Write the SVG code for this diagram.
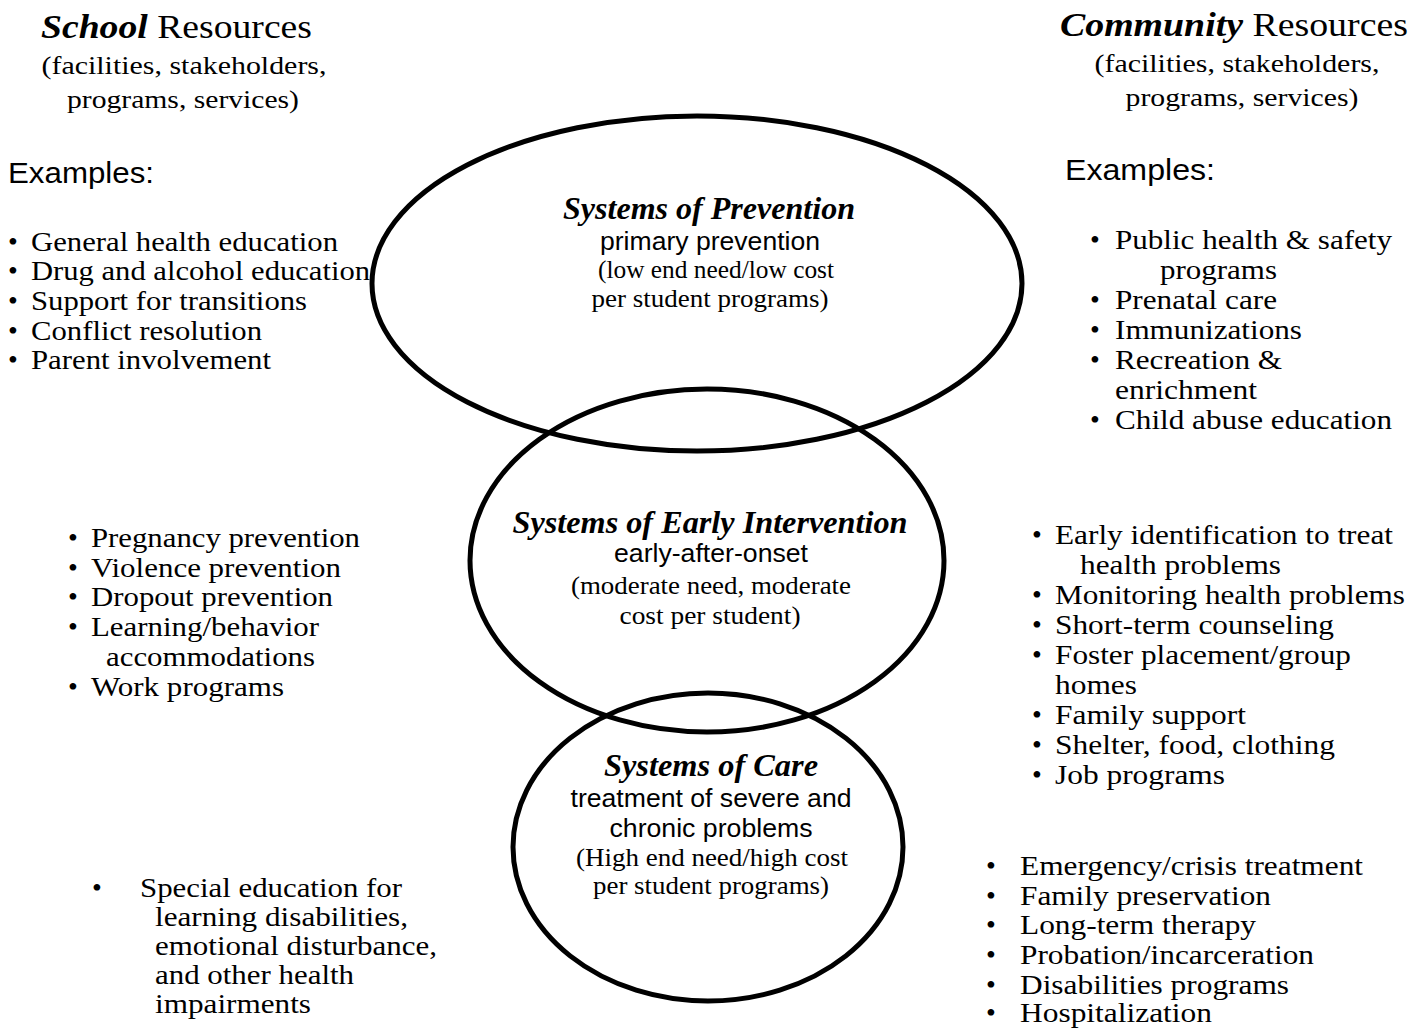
<svg xmlns="http://www.w3.org/2000/svg" width="1427" height="1028" viewBox="0 0 1427 1028">
<style>
.ell{fill:none;stroke:#000;stroke-width:5}
.t{font-family:"Liberation Serif","Times New Roman",serif;fill:#000}
.h{font-size:34px}
.sub{font-size:26px;text-anchor:middle}
.ex{font-family:"Liberation Sans",Arial,sans-serif;font-size:30px;fill:#000}
.b{font-size:28px}
.bi{font-weight:bold;font-style:italic}
.ct{font-size:31px;text-anchor:middle;font-weight:bold;font-style:italic}
.cs{font-family:"Liberation Sans",Arial,sans-serif;font-size:25px;text-anchor:middle;fill:#000}
.cr{font-size:25px;text-anchor:middle}
</style>
<rect width="1427" height="1028" fill="#fff"/>
<g id="connectors"/>
<g id="node-prevention">
<ellipse class="ell" cx="697" cy="283.5" rx="325" ry="167.5"/>
<text class="t ct" x="709" y="219" textLength="292" lengthAdjust="spacingAndGlyphs">Systems of Prevention</text>
<text class="cs" x="710" y="250" textLength="220" lengthAdjust="spacingAndGlyphs">primary prevention</text>
<text class="t cr" x="716" y="278" textLength="236" lengthAdjust="spacingAndGlyphs">(low end need/low cost</text>
<text class="t cr" x="710" y="307" textLength="237" lengthAdjust="spacingAndGlyphs">per student programs)</text>
</g>
<g id="node-early">
<ellipse class="ell" cx="707" cy="560.5" rx="237" ry="171.5"/>
<text class="t ct" x="710" y="533" textLength="395" lengthAdjust="spacingAndGlyphs">Systems of Early Intervention</text>
<text class="cs" x="711" y="562" textLength="194" lengthAdjust="spacingAndGlyphs">early-after-onset</text>
<text class="t cr" x="711" y="594" textLength="280" lengthAdjust="spacingAndGlyphs">(moderate need, moderate</text>
<text class="t cr" x="710" y="624" textLength="181" lengthAdjust="spacingAndGlyphs">cost per student)</text>
</g>
<g id="node-care">
<ellipse class="ell" cx="708" cy="847" rx="195" ry="154"/>
<text class="t ct" x="711" y="776" textLength="214" lengthAdjust="spacingAndGlyphs">Systems of Care</text>
<text class="cs" x="711" y="807" textLength="281" lengthAdjust="spacingAndGlyphs">treatment of severe and</text>
<text class="cs" x="711" y="837" textLength="203" lengthAdjust="spacingAndGlyphs">chronic problems</text>
<text class="t cr" x="712" y="866" textLength="272" lengthAdjust="spacingAndGlyphs">(High end need/high cost</text>
<text class="t cr" x="711" y="894" textLength="236" lengthAdjust="spacingAndGlyphs">per student programs)</text>
</g>
<g id="school-header">
<text class="t h" x="41" y="38" textLength="271" lengthAdjust="spacingAndGlyphs"><tspan class="bi">School</tspan> Resources</text>
<text class="t sub" x="184" y="74" textLength="285" lengthAdjust="spacingAndGlyphs">(facilities, stakeholders,</text>
<text class="t sub" x="183" y="108" textLength="232" lengthAdjust="spacingAndGlyphs">programs, services)</text>
<text class="ex" x="8" y="183" textLength="146" lengthAdjust="spacingAndGlyphs">Examples:</text>
</g>
<g id="community-header">
<text class="t h" x="1060" y="36" textLength="348" lengthAdjust="spacingAndGlyphs"><tspan class="bi">Community</tspan> Resources</text>
<text class="t sub" x="1237" y="72" textLength="285" lengthAdjust="spacingAndGlyphs">(facilities, stakeholders,</text>
<text class="t sub" x="1242" y="106" textLength="233" lengthAdjust="spacingAndGlyphs">programs, services)</text>
<text class="ex" x="1065" y="180" textLength="150" lengthAdjust="spacingAndGlyphs">Examples:</text>
</g>
<g id="school-prevention" class="t b">
<text x="8" y="251">•</text><text x="31" y="251" textLength="307" lengthAdjust="spacingAndGlyphs">General health education</text>
<text x="8" y="280">•</text><text x="31" y="280" textLength="339" lengthAdjust="spacingAndGlyphs">Drug and alcohol education</text>
<text x="8" y="310">•</text><text x="31" y="310" textLength="276" lengthAdjust="spacingAndGlyphs">Support for transitions</text>
<text x="8" y="340">•</text><text x="31" y="340" textLength="231" lengthAdjust="spacingAndGlyphs">Conflict resolution</text>
<text x="8" y="369">•</text><text x="31" y="369" textLength="240" lengthAdjust="spacingAndGlyphs">Parent involvement</text>
</g>
<g id="community-prevention" class="t b">
<text x="1090" y="249">•</text><text x="1115" y="249" textLength="277" lengthAdjust="spacingAndGlyphs">Public health &amp; safety</text>
<text x="1160" y="279" textLength="117" lengthAdjust="spacingAndGlyphs">programs</text>
<text x="1090" y="309">•</text><text x="1115" y="309" textLength="162" lengthAdjust="spacingAndGlyphs">Prenatal care</text>
<text x="1090" y="339">•</text><text x="1115" y="339" textLength="187" lengthAdjust="spacingAndGlyphs">Immunizations</text>
<text x="1090" y="369">•</text><text x="1115" y="369" textLength="167" lengthAdjust="spacingAndGlyphs">Recreation &amp;</text>
<text x="1115" y="399" textLength="142" lengthAdjust="spacingAndGlyphs">enrichment</text>
<text x="1090" y="429">•</text><text x="1115" y="429" textLength="277" lengthAdjust="spacingAndGlyphs">Child abuse education</text>
</g>
<g id="school-early" class="t b">
<text x="68" y="547">•</text><text x="91" y="547" textLength="269" lengthAdjust="spacingAndGlyphs">Pregnancy prevention</text>
<text x="68" y="577">•</text><text x="91" y="577" textLength="250" lengthAdjust="spacingAndGlyphs">Violence prevention</text>
<text x="68" y="606">•</text><text x="91" y="606" textLength="242" lengthAdjust="spacingAndGlyphs">Dropout prevention</text>
<text x="68" y="636">•</text><text x="91" y="636" textLength="228" lengthAdjust="spacingAndGlyphs">Learning/behavior</text>
<text x="106" y="666" textLength="209" lengthAdjust="spacingAndGlyphs">accommodations</text>
<text x="68" y="696">•</text><text x="91" y="696" textLength="193" lengthAdjust="spacingAndGlyphs">Work programs</text>
</g>
<g id="community-early" class="t b">
<text x="1032" y="544">•</text><text x="1055" y="544" textLength="338" lengthAdjust="spacingAndGlyphs">Early identification to treat</text>
<text x="1080" y="574" textLength="201" lengthAdjust="spacingAndGlyphs">health problems</text>
<text x="1032" y="604">•</text><text x="1055" y="604" textLength="350" lengthAdjust="spacingAndGlyphs">Monitoring health problems</text>
<text x="1032" y="634">•</text><text x="1055" y="634" textLength="279" lengthAdjust="spacingAndGlyphs">Short-term counseling</text>
<text x="1032" y="664">•</text><text x="1055" y="664" textLength="296" lengthAdjust="spacingAndGlyphs">Foster placement/group</text>
<text x="1055" y="694" textLength="82" lengthAdjust="spacingAndGlyphs">homes</text>
<text x="1032" y="724">•</text><text x="1055" y="724" textLength="191" lengthAdjust="spacingAndGlyphs">Family support</text>
<text x="1032" y="754">•</text><text x="1055" y="754" textLength="280" lengthAdjust="spacingAndGlyphs">Shelter, food, clothing</text>
<text x="1032" y="784">•</text><text x="1055" y="784" textLength="170" lengthAdjust="spacingAndGlyphs">Job programs</text>
</g>
<g id="school-care" class="t b">
<text x="92" y="897">•</text><text x="140" y="897" textLength="262" lengthAdjust="spacingAndGlyphs">Special education for</text>
<text x="155" y="926" textLength="253" lengthAdjust="spacingAndGlyphs">learning disabilities,</text>
<text x="155" y="955" textLength="282" lengthAdjust="spacingAndGlyphs">emotional disturbance,</text>
<text x="155" y="984" textLength="199" lengthAdjust="spacingAndGlyphs">and other health</text>
<text x="155" y="1013" textLength="156" lengthAdjust="spacingAndGlyphs">impairments</text>
</g>
<g id="community-care" class="t b">
<text x="986" y="875">•</text><text x="1020" y="875" textLength="343" lengthAdjust="spacingAndGlyphs">Emergency/crisis treatment</text>
<text x="986" y="905">•</text><text x="1020" y="905" textLength="251" lengthAdjust="spacingAndGlyphs">Family preservation</text>
<text x="986" y="934">•</text><text x="1020" y="934" textLength="236" lengthAdjust="spacingAndGlyphs">Long-term therapy</text>
<text x="986" y="964">•</text><text x="1020" y="964" textLength="294" lengthAdjust="spacingAndGlyphs">Probation/incarceration</text>
<text x="986" y="994">•</text><text x="1020" y="994" textLength="269" lengthAdjust="spacingAndGlyphs">Disabilities programs</text>
<text x="986" y="1022">•</text><text x="1020" y="1022" textLength="192" lengthAdjust="spacingAndGlyphs">Hospitalization</text>
</g>
</svg>
